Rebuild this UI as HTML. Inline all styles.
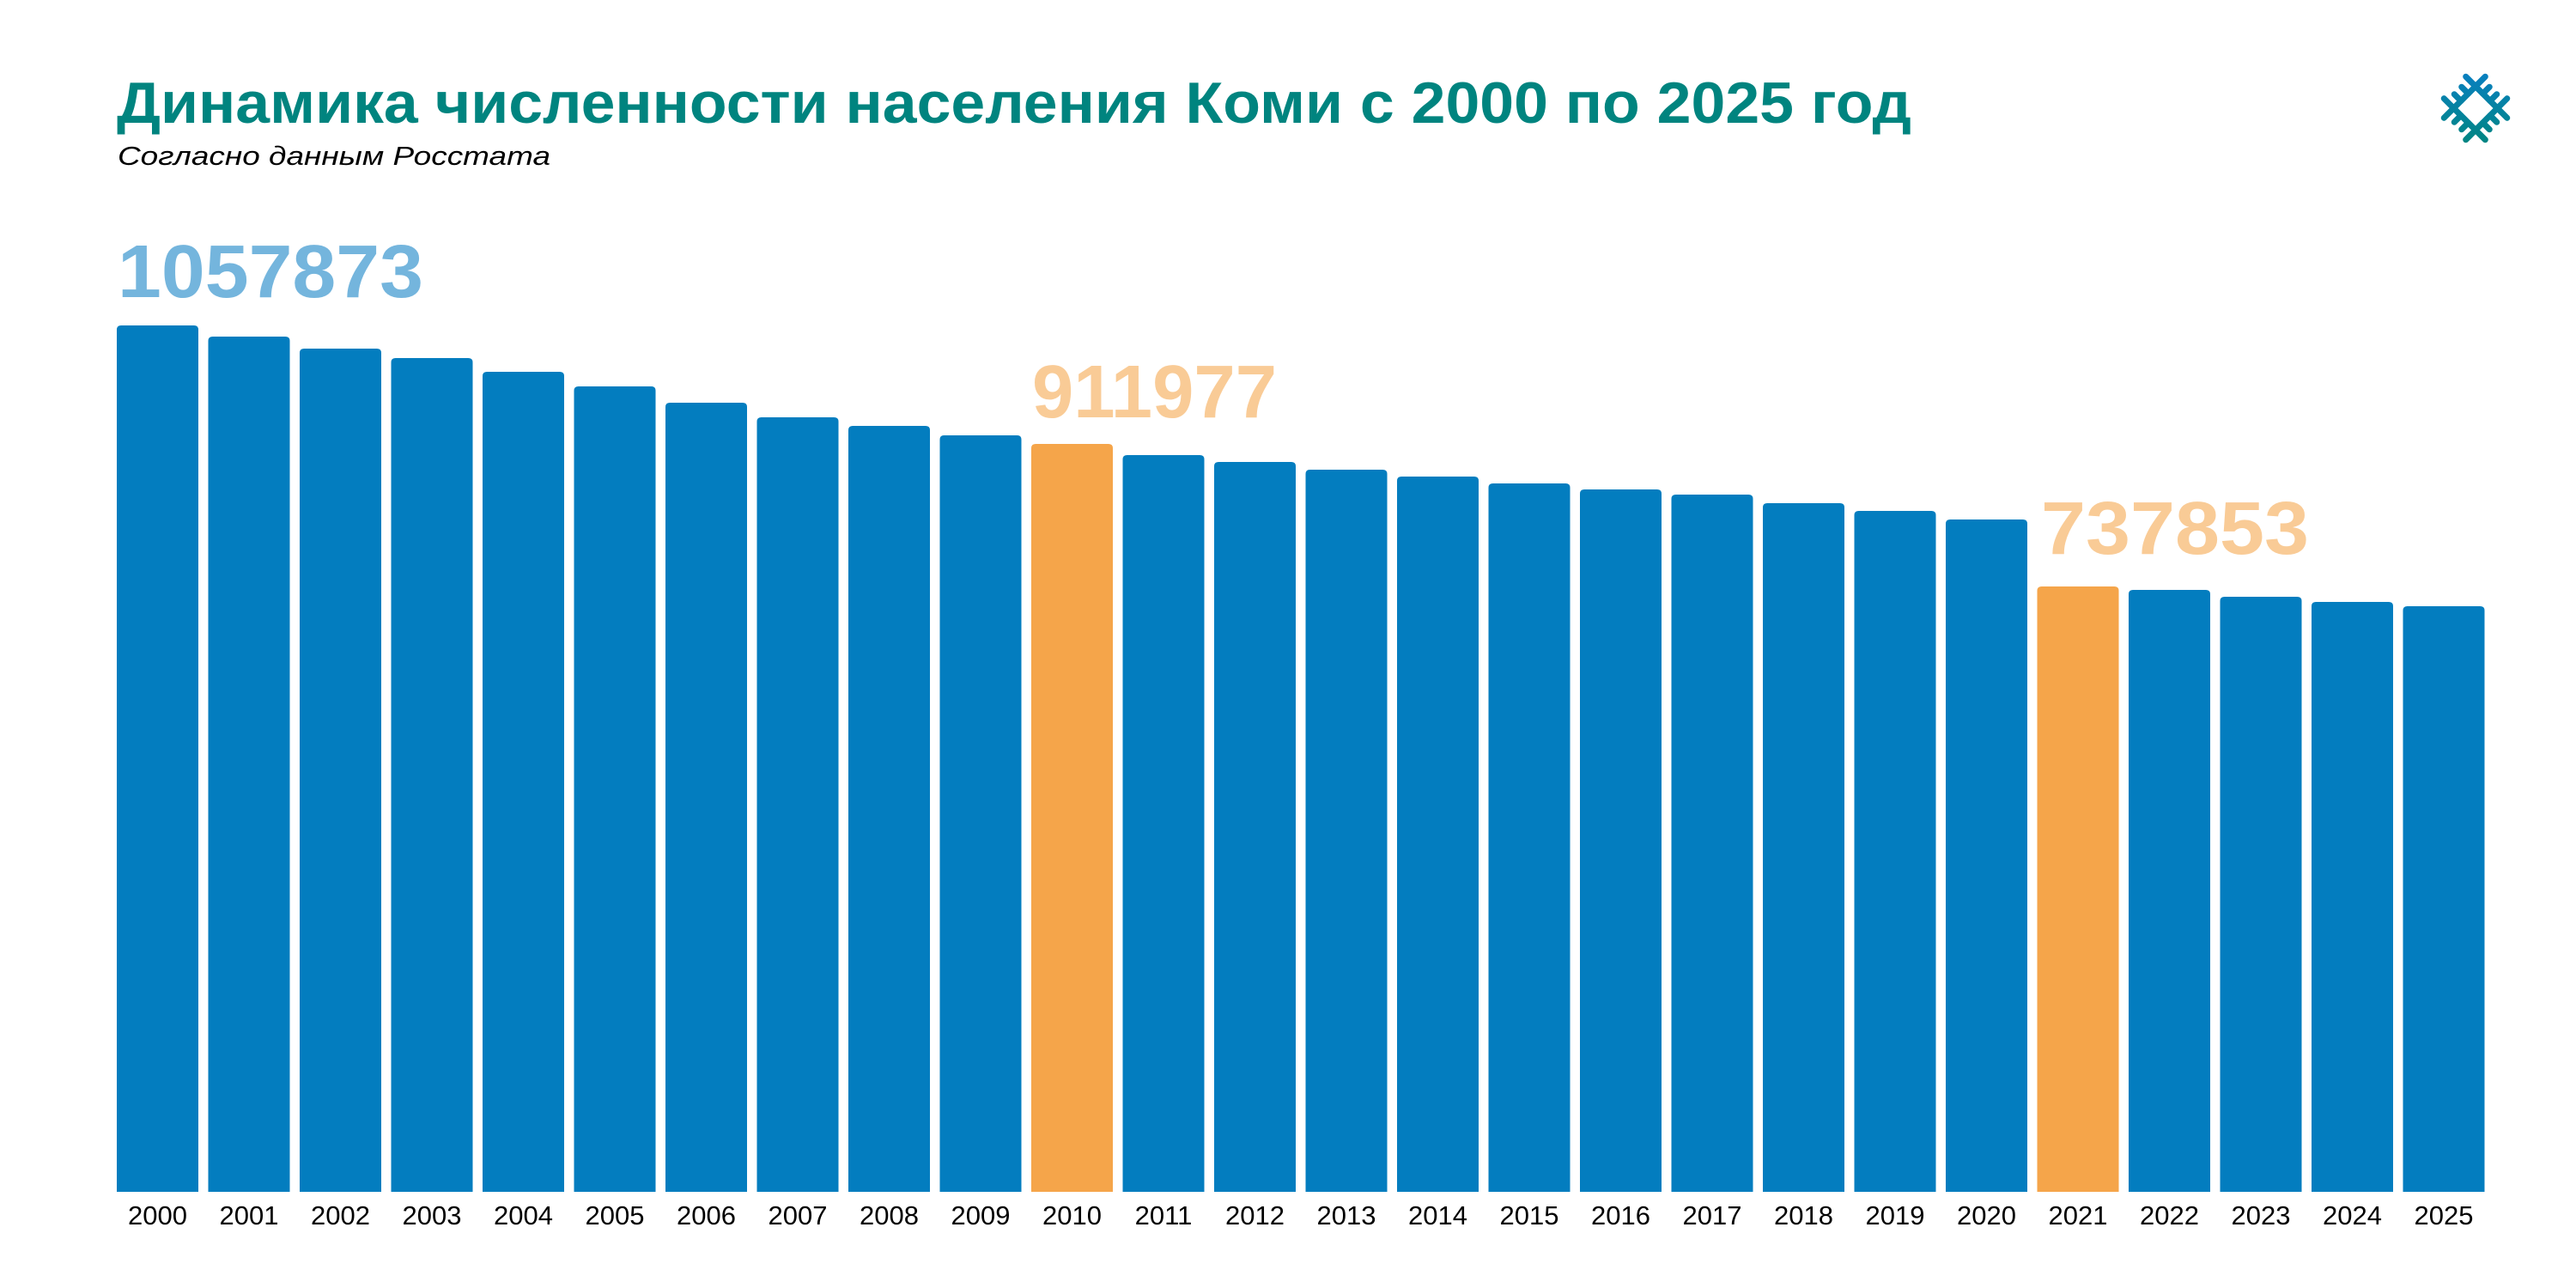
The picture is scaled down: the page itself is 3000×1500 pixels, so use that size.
<!DOCTYPE html>
<html><head><meta charset="utf-8"><style>
html,body{margin:0;padding:0;background:#fff;width:3000px;height:1500px;overflow:hidden}
svg{display:block}
</style></head><body>
<svg width="3000" height="1500" viewBox="0 0 3000 1500" xmlns="http://www.w3.org/2000/svg">
<defs>
<linearGradient id="lg" x1="-34" y1="-34" x2="34" y2="34" gradientUnits="userSpaceOnUse">
<stop offset="0" stop-color="#0a7fc6"/><stop offset="1" stop-color="#00867c"/>
</linearGradient>
</defs>
<rect width="3000" height="1500" fill="#fff"/>
<text x="136" y="143" font-family="Liberation Sans, sans-serif" font-weight="bold" font-size="68" fill="#00847F" textLength="2090" lengthAdjust="spacingAndGlyphs">Динамика численности населения Коми с 2000 по 2025 год</text>
<text x="137" y="192" font-family="Liberation Sans, sans-serif" font-style="italic" font-size="31" fill="#000" textLength="504" lengthAdjust="spacingAndGlyphs">Согласно данным Росстата</text>
<text x="137" y="346" font-family="Liberation Sans, sans-serif" font-weight="bold" font-size="87" fill="#74B5DD" textLength="356" lengthAdjust="spacingAndGlyphs">1057873</text>
<text x="1202" y="486" font-family="Liberation Sans, sans-serif" font-weight="bold" font-size="87" fill="#F9CB96" textLength="285" lengthAdjust="spacingAndGlyphs">911977</text>
<text x="2377" y="645" font-family="Liberation Sans, sans-serif" font-weight="bold" font-size="87" fill="#F9CB96" textLength="312" lengthAdjust="spacingAndGlyphs">737853</text>
<g id="bars"></g>
<g id="years" font-family="Liberation Sans, sans-serif" font-size="31" fill="#000" text-anchor="middle"></g>
<g transform="translate(2883,126) rotate(45)" stroke="url(#lg)" stroke-width="7" stroke-linecap="round" fill="none">
<path d="M-18,-34 V34 M18,-34 V34 M-34,-18 H34 M-34,18 H34"/>
<path d="M-18,-6 H-29 M-18,6 H-29 M18,-6 H29 M18,6 H29 M-6,-18 V-29 M6,-18 V-29 M-6,18 V29 M6,18 V29"/>
</g>
</svg>
<script>
var tops=[379,392,406,417,433,450,469,486,496,507,517,530,538,547,555,563,570,576,586,595,605,683,687,695,701,706];
var ns="http://www.w3.org/2000/svg",b=document.getElementById("bars"),y=document.getElementById("years");
for(var i=0;i<26;i++){var x=136+i*106.5;var c=(i==10||i==21)?"#F5A54A":"#037DBF";
var p=document.createElementNS(ns,"path");var t=tops[i],r=5,w=95;
p.setAttribute("d","M"+x+",1388 V"+(t+r)+" Q"+x+","+t+" "+(x+r)+","+t+" H"+(x+w-r)+" Q"+(x+w)+","+t+" "+(x+w)+","+(t+r)+" V1388 Z");
p.setAttribute("fill",c);b.appendChild(p);
var tx=document.createElementNS(ns,"text");tx.setAttribute("x",x+w/2);tx.setAttribute("y",1426);tx.textContent=2000+i;y.appendChild(tx);}
</script>
</body></html>
